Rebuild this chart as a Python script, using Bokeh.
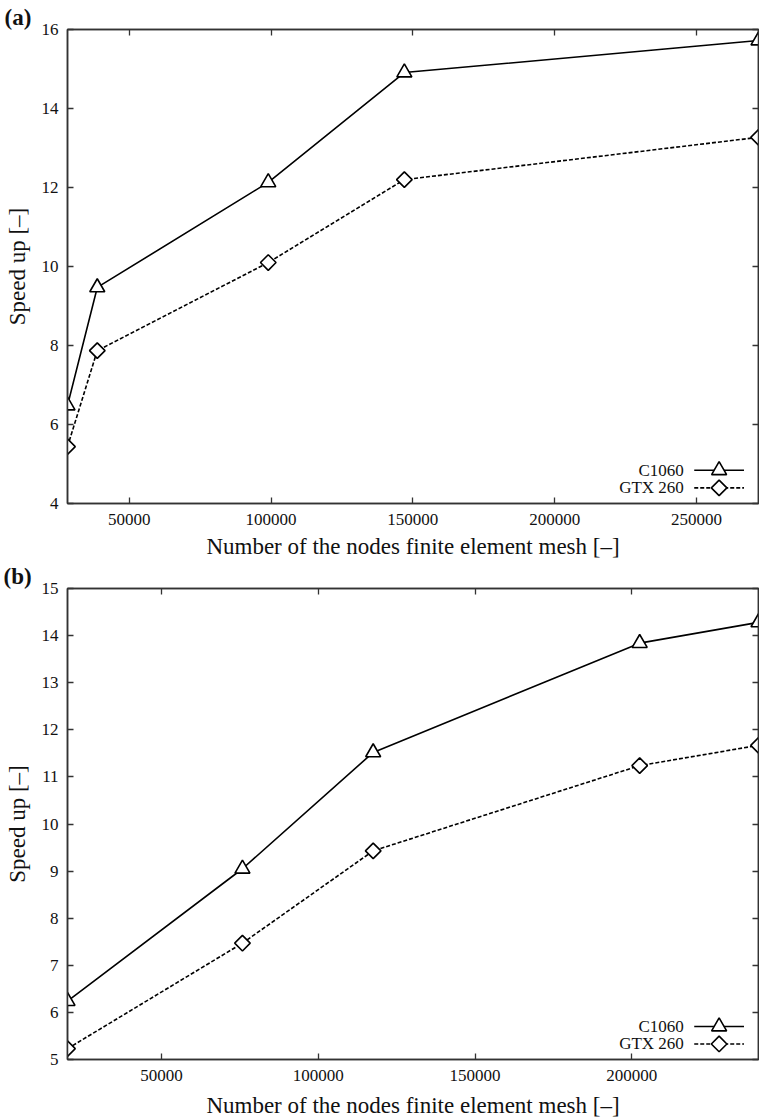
from bokeh.plotting import figure
from bokeh.models import (LinearAxis, Range1d, Label, FixedTicker, BasicTickFormatter,
                          CustomJSTickFormatter)
from bokeh.layouts import column
from bokeh.embed import file_html
from bokeh.resources import INLINE

# ---------------- data ----------------
series_names = ["C1060", "GTX 260"]
x_label = "Number of the nodes finite element mesh [\u2013]"
y_label = "Speed up [\u2013]"

a_nodes = [28200, 38700, 99000, 147000, 271900]
a_c1060 = [6.48, 9.47, 12.13, 14.91, 15.72]
a_gtx260 = [5.44, 7.87, 10.10, 12.20, 13.27]
a_xticks = [50000, 100000, 150000, 200000, 250000]
a_yticks = [4, 6, 8, 10, 12, 14, 16]
a_xlim = (28200, 271900)
a_ylim = (4, 16)

b_nodes = [20000, 75800, 117500, 202500, 240400]
b_c1060 = [6.24, 9.05, 11.52, 13.84, 14.28]
b_gtx260 = [5.23, 7.47, 9.43, 11.24, 11.67]
b_xticks = [50000, 100000, 150000, 200000]
b_yticks = [5, 6, 7, 8, 9, 10, 11, 12, 13, 14, 15]
b_xlim = (20000, 240400)
b_ylim = (5, 15)

FONT = "Liberation Serif"
AX = "#333333"
INK = "#111111"
DIAMOND_ANGLE = 0.7853981634  # rotated square


def style_axis(ax, ticks, labels=True):
    ax.ticker = FixedTicker(ticks=ticks)
    ax.axis_line_color = AX
    ax.axis_line_width = 1.5
    ax.major_tick_line_color = AX
    ax.major_tick_line_width = 1.3
    ax.major_tick_in = 6
    ax.major_tick_out = 0
    ax.minor_tick_line_color = None
    ax.major_label_text_font = FONT
    ax.major_label_text_font_size = "17px"
    ax.major_label_text_color = INK
    ax.major_label_standoff = 10
    ax.axis_label_text_font = FONT
    ax.axis_label_text_font_size = "23px"
    ax.axis_label_text_font_style = "normal"
    ax.axis_label_text_color = INK
    if not labels:
        ax.formatter = CustomJSTickFormatter(code="return ''")
        ax.major_label_standoff = 0


def make_panel(tag, nodes, c1060, gtx, xticks, yticks, xlim, ylim, height, btop, bbottom,
               bleft, xlab_standoff):
    p = figure(width=759, height=height, output_backend="svg", toolbar_location=None,
               x_range=Range1d(*xlim), y_range=Range1d(*ylim),
               min_border_left=bleft, min_border_right=1, min_border_top=btop,
               min_border_bottom=bbottom, background_fill_color="white",
               border_fill_color="white")
    p.xgrid.visible = False
    p.ygrid.visible = False
    p.outline_line_color = AX
    p.outline_line_width = 1.5

    # panel tag as the figure title, shifted left of the frame
    p.title.text = tag
    p.title.align = "left"
    p.title.offset = -(bleft - 3)
    p.title.standoff = 0
    p.title.text_font = FONT
    p.title.text_font_size = "23px"
    p.title.text_font_style = "bold"
    p.title.text_color = INK
    p.title.text_line_height = 1.0

    style_axis(p.xaxis[0], xticks)
    style_axis(p.yaxis[0], yticks)
    p.yaxis[0].major_label_standoff = 9
    p.xaxis[0].formatter = BasicTickFormatter(use_scientific=False)
    p.xaxis[0].axis_label = x_label
    p.xaxis[0].axis_label_standoff = xlab_standoff
    p.yaxis[0].axis_label = y_label
    p.yaxis[0].axis_label_standoff = 9

    top = LinearAxis()
    style_axis(top, xticks, labels=False)
    p.add_layout(top, "above")
    right = LinearAxis()
    style_axis(right, yticks, labels=False)
    p.add_layout(right, "right")

    # series
    p.line(nodes, c1060, line_color="black", line_width=1.6)
    p.scatter(nodes, c1060, marker="triangle", size=15, fill_color="white",
              line_color="black", line_width=1.6)
    p.line(nodes, gtx, line_color="black", line_width=1.6, line_dash="4 2")
    p.scatter(nodes, gtx, marker="square", angle=DIAMOND_ANGLE, size=11, fill_color="white",
              line_color="black", line_width=1.6)

    # legend (gnuplot style: text, then sample on the right)
    x0, x1 = xlim
    y0, y1 = ylim
    fx = lambda f: x0 + f * (x1 - x0)
    fy = lambda f: y0 + f * (y1 - y0)
    rows = [(0.070, "triangle", 15, 0.0, None), (0.033, "square", 11, DIAMOND_ANGLE, "4 2")]
    for (f, mk, sz, ang, dash), name in zip(rows, series_names):
        p.add_layout(Label(x=fx(0.892), y=fy(f), text=name, text_font=FONT,
                           text_font_size="17px", text_color=INK, text_align="right",
                           text_baseline="middle"))
        kw = dict(line_color="black", line_width=1.6)
        if dash:
            kw["line_dash"] = dash
        p.line([fx(0.907), fx(0.979)], [fy(f), fy(f)], **kw)
        p.scatter([fx(0.943)], [fy(f)], marker=mk, size=sz, angle=ang, fill_color="white",
                  line_color="black", line_width=1.6)
    return p


pa = make_panel("(a)", a_nodes, a_c1060, a_gtx260, a_xticks, a_yticks, a_xlim, a_ylim,
                561, 29, 58, 66, 6)
pb = make_panel("(b)", b_nodes, b_c1060, b_gtx260, b_xticks, b_yticks, b_xlim, b_ylim,
                559, 26, 61, 67, 9)

layout = column(pa, pb, spacing=0)
open("out.html", "w").write(file_html(layout, INLINE))
